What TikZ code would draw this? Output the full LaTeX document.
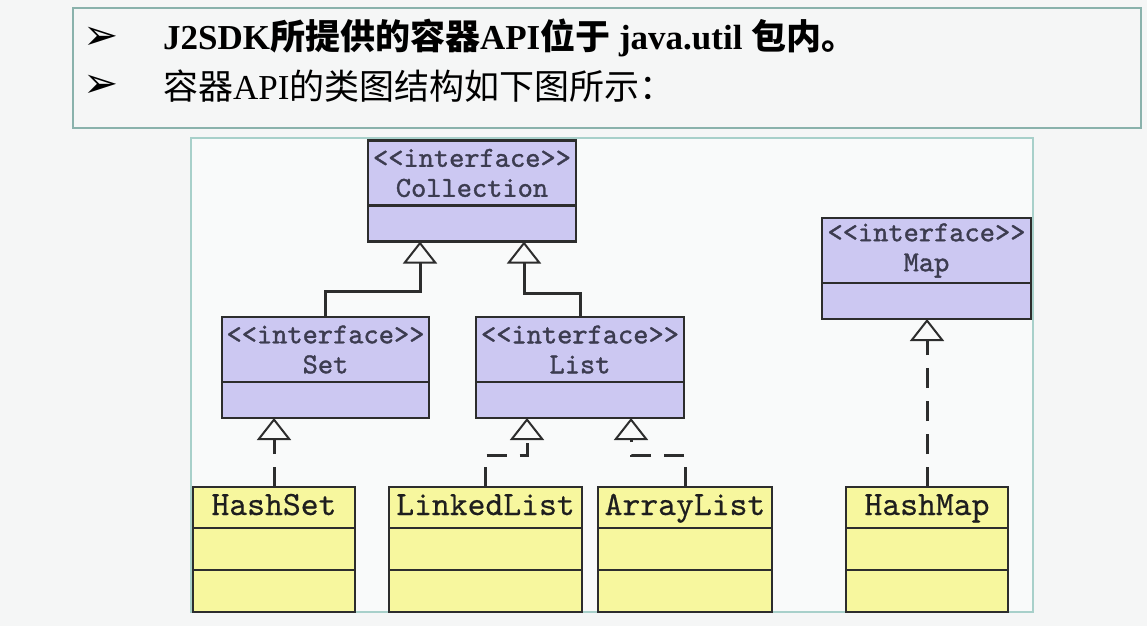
\documentclass[tikz,border=0pt]{standalone}
\usepackage{fontspec}
\setmainfont{Liberation Serif}
\newfontfamily\cjk{Noto Sans CJK SC}
\newfontfamily\dingfont{DejaVu Sans}
\newfontfamily\ifacefont[FakeBold=1.2]{lmmono10-regular.otf}
\newfontfamily\clsfont[FakeBold=0.5]{lmmono10-regular.otf}
\usetikzlibrary{positioning, arrows.meta}

\definecolor{bgcol}{RGB}{245,246,246}
\definecolor{topline}{RGB}{138,178,172}
\definecolor{frameline}{RGB}{168,208,202}
\definecolor{ifacefill}{RGB}{204,200,242}
\definecolor{clsfill}{RGB}{247,247,158}
\definecolor{ifacetext}{RGB}{60,60,80}
\definecolor{clstext}{RGB}{30,30,30}
\definecolor{linecol}{RGB}{45,45,45}

\begin{document}
\begin{tikzpicture}[
    x=0.5pt, y=-0.5pt,
    box/.style={rectangle, draw=linecol, line width=1.2pt, outer sep=0pt, inner sep=0pt},
    iface/.style={box, fill=ifacefill, minimum width=#1, minimum height=32.5pt,
        align=center, text=ifacetext, font=\ifacefont\fontsize{14.5}{15}\selectfont},
    ifacebody/.style={box, fill=ifacefill, minimum width=#1, minimum height=18pt},
    cls/.style={box, fill=clsfill, minimum width=#1, minimum height=20.5pt,
        text height=11pt, text depth=3.5pt,
        text=clstext, font=\clsfont\fontsize{17}{18}\selectfont},
    clsbody/.style={box, fill=clsfill, minimum width=#1, minimum height=21pt},
    gen/.style={draw=linecol, line width=1.5pt,
        -{Triangle[open, width=17pt, length=11pt, line width=1pt]}},
    real/.style={gen, dash pattern=on 10pt off 6.5pt},
    bullet/.style={font=\dingfont\fontsize{21}{21}\selectfont},
    item/.style={anchor=west, font=\fontsize{17.5}{19}\selectfont}
]
\useasboundingbox (0,0) rectangle (1147,626);
\fill[bgcol] (0,0) rectangle (1147,626);

% Frames
\draw[topline, line width=1pt] (73,8) rectangle (1141,128);
\draw[frameline, line width=0.8pt, fill=bgcol!60!white] (191,138) rectangle (1033,612);

% Bullet lines
\node[bullet] (b1) at (101,38) {➢};
\node[item, font=\fontsize{17.5}{19}\selectfont\bfseries] (t1) at (156,38)
    {J2SDK{\cjk 所提供的容器}API{\cjk 位于} java.util {\cjk 包内。}};
\node[bullet] (b2) at (101,86) {➢};
\node[item] (t2) at (156,86) {{\cjk 容器}API{\cjk 的类图结构如下图所示：}};

% Interfaces
\node[iface=104pt] (coll) at (472,173) {<{}<interface>{}>\\Collection};
\node[ifacebody=104pt, below=0pt of coll] (coll-b) {};
\node[iface=103.5pt] (set) at (325.5,349.5) {<{}<interface>{}>\\Set};
\node[ifacebody=103.5pt, below=0pt of set] (set-b) {};
\node[iface=104pt] (list) at (580,349.5) {<{}<interface>{}>\\List};
\node[ifacebody=104pt, below=0pt of list] (list-b) {};
\node[iface=104.5pt] (map) at (926.5,250.5) {<{}<interface>{}>\\Map};
\node[ifacebody=104.5pt, below=0pt of map] (map-b) {};

% Classes
\node[cls=81pt] (hset) at (274,507.5) {HashSet};
\node[clsbody=81pt, below=0pt of hset] (hset-a) {};
\node[clsbody=81pt, below=0pt of hset-a] (hset-b) {};
\node[cls=96.5pt] (llist) at (485.5,507.5) {LinkedList};
\node[clsbody=96.5pt, below=0pt of llist] (llist-a) {};
\node[clsbody=96.5pt, below=0pt of llist-a] (llist-b) {};
\node[cls=87pt] (alist) at (685,507.5) {ArrayList};
\node[clsbody=87pt, below=0pt of alist] (alist-a) {};
\node[clsbody=87pt, below=0pt of alist-a] (alist-b) {};
\node[cls=81pt] (hmap) at (927,507.5) {HashMap};
\node[clsbody=81pt, below=0pt of hmap] (hmap-a) {};
\node[clsbody=81pt, below=0pt of hmap-a] (hmap-b) {};

% Inheritance
\draw[gen] (set.north) -- ++(0,-26) -| ([xshift=-26pt]coll-b.south);
\draw[gen] (list.north) -- ++(0,-24) -| ([xshift=26pt]coll-b.south);

% Implementation
\draw[real] (hset.north) -- (hset.north |- set-b.south);
\draw[real] (llist.north) -- ++(0,-32) -| ([xshift=-26.5pt]list-b.south);
\draw[real] (alist.north) -- ++(0,-32) -| ([xshift=25.5pt]list-b.south);
\draw[real] (hmap.north) -- (hmap.north |- map-b.south);

\end{tikzpicture}
\end{document}
